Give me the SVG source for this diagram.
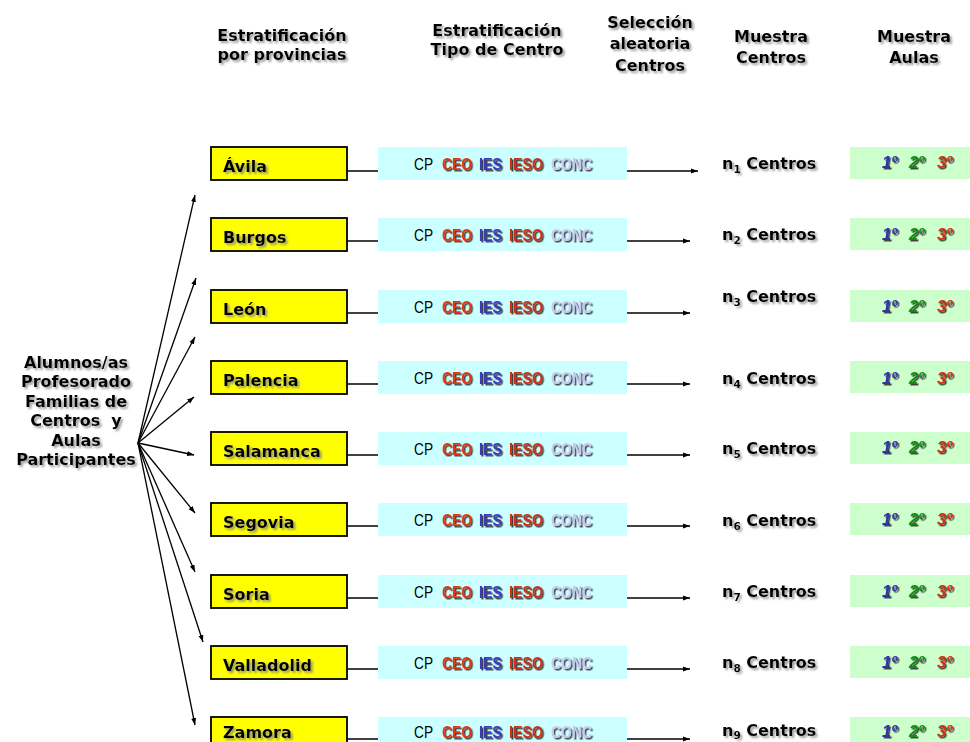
<svg xmlns="http://www.w3.org/2000/svg" width="970" height="742" viewBox="0 0 970 742">
<defs>
<style>
.h{font-family:"DejaVu Sans",Verdana,sans-serif;font-weight:bold;font-size:16px;fill:#000;filter:url(#sh)}
.hm{text-anchor:middle}
.prov{fill:#ffff00;stroke:#000;stroke-width:1.8}
.tipo{fill:#ccffff}
.aula{fill:#ccffcc}
.cp{font-family:"Liberation Sans",Arial,sans-serif;font-size:16.5px;fill:#000}
.ct{font-family:"Liberation Sans",Arial,sans-serif;font-weight:bold;font-size:17px;filter:url(#hs)}
.ord{font-family:"Liberation Sans",Arial,sans-serif;font-weight:bold;font-style:italic;font-size:16.5px;filter:url(#hs)}
.sub{font-size:10.5px}
.ln{stroke:#000;stroke-width:1.3;fill:none}
</style>
<filter id="sh" x="-10%" y="-30%" width="130%" height="170%">
<feDropShadow dx="2" dy="2" stdDeviation="1" flood-color="#808080" flood-opacity="0.8"/>
</filter>
<filter id="hs" x="-10%" y="-30%" width="130%" height="170%">
<feDropShadow dx="1.5" dy="1.5" stdDeviation="0.3" flood-color="#333" flood-opacity="0.9"/>
</filter>
<marker id="ah" markerWidth="8" markerHeight="6" refX="7" refY="3" orient="auto" markerUnits="userSpaceOnUse">
<path d="M0,0.5 L7,3 L0,5.5 Z" fill="#000"/>
</marker>
<g id="tiposTxt">
<text class="cp" x="414" y="0" textLength="19" lengthAdjust="spacingAndGlyphs">CP</text>
<text class="ct" x="442" y="0" fill="#e03810" textLength="30" lengthAdjust="spacingAndGlyphs">CEO</text>
<text class="ct" x="479" y="0" fill="#3a3ac0" textLength="23" lengthAdjust="spacingAndGlyphs">IES</text>
<text class="ct" x="509" y="0" fill="#c83418" textLength="34" lengthAdjust="spacingAndGlyphs">IESO</text>
<text class="ct" x="551" y="0" fill="#c8c8f0" textLength="41" lengthAdjust="spacingAndGlyphs">CONC</text>
</g>
<g id="aulasTxt">
<text class="ord" x="882" y="0" fill="#3030b0">1º</text>
<text class="ord" x="909" y="0" fill="#109010">2º</text>
<text class="ord" x="937" y="0" fill="#d03010">3º</text>
</g>
</defs>
<rect width="970" height="742" fill="#fff"/>

<g id="headers">
<text class="h hm" x="282" y="41">Estratificación</text>
<text class="h hm" x="282" y="60">por provincias</text>
<text class="h hm" x="497" y="36">Estratificación</text>
<text class="h hm" x="497" y="55">Tipo de Centro</text>
<text class="h hm" x="650" y="28">Selección</text>
<text class="h hm" x="650" y="49">aleatoria</text>
<text class="h hm" x="650" y="71">Centros</text>
<text class="h hm" x="771" y="42">Muestra</text>
<text class="h hm" x="771" y="63">Centros</text>
<text class="h hm" x="914" y="42">Muestra</text>
<text class="h hm" x="914" y="63">Aulas</text>
</g>

<g id="participantes">
<text class="h hm" x="76" y="368">Alumnos/as</text>
<text class="h hm" x="76" y="387">Profesorado</text>
<text class="h hm" x="76" y="407">Familias de</text>
<text class="h hm" x="76" y="426" style="white-space:pre">Centros  y</text>
<text class="h hm" x="76" y="446">Aulas</text>
<text class="h hm" x="76" y="465">Participantes</text>
</g>

<g id="connectors">
<line class="ln" x1="138" y1="443" x2="195" y2="195" marker-end="url(#ah)"/>
<line class="ln" x1="138" y1="443" x2="196" y2="278" marker-end="url(#ah)"/>
<line class="ln" x1="138" y1="443" x2="195" y2="337" marker-end="url(#ah)"/>
<line class="ln" x1="138" y1="443" x2="194" y2="397" marker-end="url(#ah)"/>
<line class="ln" x1="138" y1="443" x2="194" y2="455" marker-end="url(#ah)"/>
<line class="ln" x1="138" y1="443" x2="195" y2="513" marker-end="url(#ah)"/>
<line class="ln" x1="138" y1="443" x2="195" y2="572" marker-end="url(#ah)"/>
<line class="ln" x1="138" y1="443" x2="203" y2="642" marker-end="url(#ah)"/>
<line class="ln" x1="138" y1="443" x2="195" y2="725" marker-end="url(#ah)"/>
<line class="ln" x1="347" y1="171" x2="698" y2="171" marker-end="url(#ah)"/>
<line class="ln" x1="347" y1="241" x2="690" y2="241" marker-end="url(#ah)"/>
<line class="ln" x1="347" y1="313" x2="690" y2="313" marker-end="url(#ah)"/>
<line class="ln" x1="347" y1="384" x2="690" y2="384" marker-end="url(#ah)"/>
<line class="ln" x1="347" y1="455" x2="690" y2="455" marker-end="url(#ah)"/>
<line class="ln" x1="347" y1="526" x2="690" y2="526" marker-end="url(#ah)"/>
<line class="ln" x1="347" y1="598" x2="690" y2="598" marker-end="url(#ah)"/>
<line class="ln" x1="347" y1="669" x2="690" y2="669" marker-end="url(#ah)"/>
<line class="ln" x1="347" y1="739" x2="690" y2="739" marker-end="url(#ah)"/>
</g>

<g id="row-avila" transform="translate(0,147)">
<rect class="prov" x="211" y="0" width="136" height="33"/>
<text class="h" x="223" y="25">Ávila</text>
<rect class="tipo" x="378" y="0" width="249" height="33"/>
<use href="#tiposTxt" y="23"/>
<text class="h" x="722" y="22">n<tspan class="sub" dy="4">1</tspan><tspan dy="-4"> Centros</tspan></text>
<rect class="aula" x="850" y="0" width="120" height="32"/>
<use href="#aulasTxt" y="21"/>
</g>

<g id="row-burgos" transform="translate(0,218)">
<rect class="prov" x="211" y="0" width="136" height="33"/>
<text class="h" x="223" y="25">Burgos</text>
<rect class="tipo" x="378" y="0" width="249" height="33"/>
<use href="#tiposTxt" y="23"/>
<text class="h" x="722" y="22">n<tspan class="sub" dy="4">2</tspan><tspan dy="-4"> Centros</tspan></text>
<rect class="aula" x="850" y="0" width="120" height="32"/>
<use href="#aulasTxt" y="22"/>
</g>

<g id="row-leon" transform="translate(0,290)">
<rect class="prov" x="211" y="0" width="136" height="33"/>
<text class="h" x="223" y="25">León</text>
<rect class="tipo" x="378" y="0" width="249" height="33"/>
<use href="#tiposTxt" y="23"/>
<text class="h" x="722" y="12">n<tspan class="sub" dy="4">3</tspan><tspan dy="-4"> Centros</tspan></text>
<rect class="aula" x="850" y="0" width="120" height="32"/>
<use href="#aulasTxt" y="22"/>
</g>

<g id="row-palencia" transform="translate(0,361)">
<rect class="prov" x="211" y="0" width="136" height="33"/>
<text class="h" x="223" y="25">Palencia</text>
<rect class="tipo" x="378" y="0" width="249" height="33"/>
<use href="#tiposTxt" y="23"/>
<text class="h" x="722" y="23">n<tspan class="sub" dy="4">4</tspan><tspan dy="-4"> Centros</tspan></text>
<rect class="aula" x="850" y="0" width="120" height="32"/>
<use href="#aulasTxt" y="23"/>
</g>

<g id="row-salamanca" transform="translate(0,432)">
<rect class="prov" x="211" y="0" width="136" height="33"/>
<text class="h" x="223" y="25">Salamanca</text>
<rect class="tipo" x="378" y="0" width="249" height="33"/>
<use href="#tiposTxt" y="23"/>
<text class="h" x="722" y="22">n<tspan class="sub" dy="4">5</tspan><tspan dy="-4"> Centros</tspan></text>
<rect class="aula" x="850" y="0" width="120" height="32"/>
<use href="#aulasTxt" y="21"/>
</g>

<g id="row-segovia" transform="translate(0,503)">
<rect class="prov" x="211" y="0" width="136" height="33"/>
<text class="h" x="223" y="25">Segovia</text>
<rect class="tipo" x="378" y="0" width="249" height="33"/>
<use href="#tiposTxt" y="23"/>
<text class="h" x="722" y="23">n<tspan class="sub" dy="4">6</tspan><tspan dy="-4"> Centros</tspan></text>
<rect class="aula" x="850" y="0" width="120" height="32"/>
<use href="#aulasTxt" y="22"/>
</g>

<g id="row-soria" transform="translate(0,575)">
<rect class="prov" x="211" y="0" width="136" height="33"/>
<text class="h" x="223" y="25">Soria</text>
<rect class="tipo" x="378" y="0" width="249" height="33"/>
<use href="#tiposTxt" y="23"/>
<text class="h" x="722" y="22">n<tspan class="sub" dy="4">7</tspan><tspan dy="-4"> Centros</tspan></text>
<rect class="aula" x="850" y="0" width="120" height="32"/>
<use href="#aulasTxt" y="22"/>
</g>

<g id="row-valladolid" transform="translate(0,646)">
<rect class="prov" x="211" y="0" width="136" height="33"/>
<text class="h" x="223" y="25">Valladolid</text>
<rect class="tipo" x="378" y="0" width="249" height="33"/>
<use href="#tiposTxt" y="23"/>
<text class="h" x="722" y="22">n<tspan class="sub" dy="4">8</tspan><tspan dy="-4"> Centros</tspan></text>
<rect class="aula" x="850" y="0" width="120" height="32"/>
<use href="#aulasTxt" y="22"/>
</g>

<g id="row-zamora" transform="translate(0,717)">
<rect class="prov" x="211" y="0" width="136" height="33"/>
<text class="h" x="223" y="21">Zamora</text>
<rect class="tipo" x="378" y="0" width="249" height="33"/>
<use href="#tiposTxt" y="21"/>
<text class="h" x="722" y="19">n<tspan class="sub" dy="3">9</tspan><tspan dy="-3"> Centros</tspan></text>
<rect class="aula" x="850" y="0" width="120" height="32"/>
<use href="#aulasTxt" y="20"/>
</g>
</svg>
